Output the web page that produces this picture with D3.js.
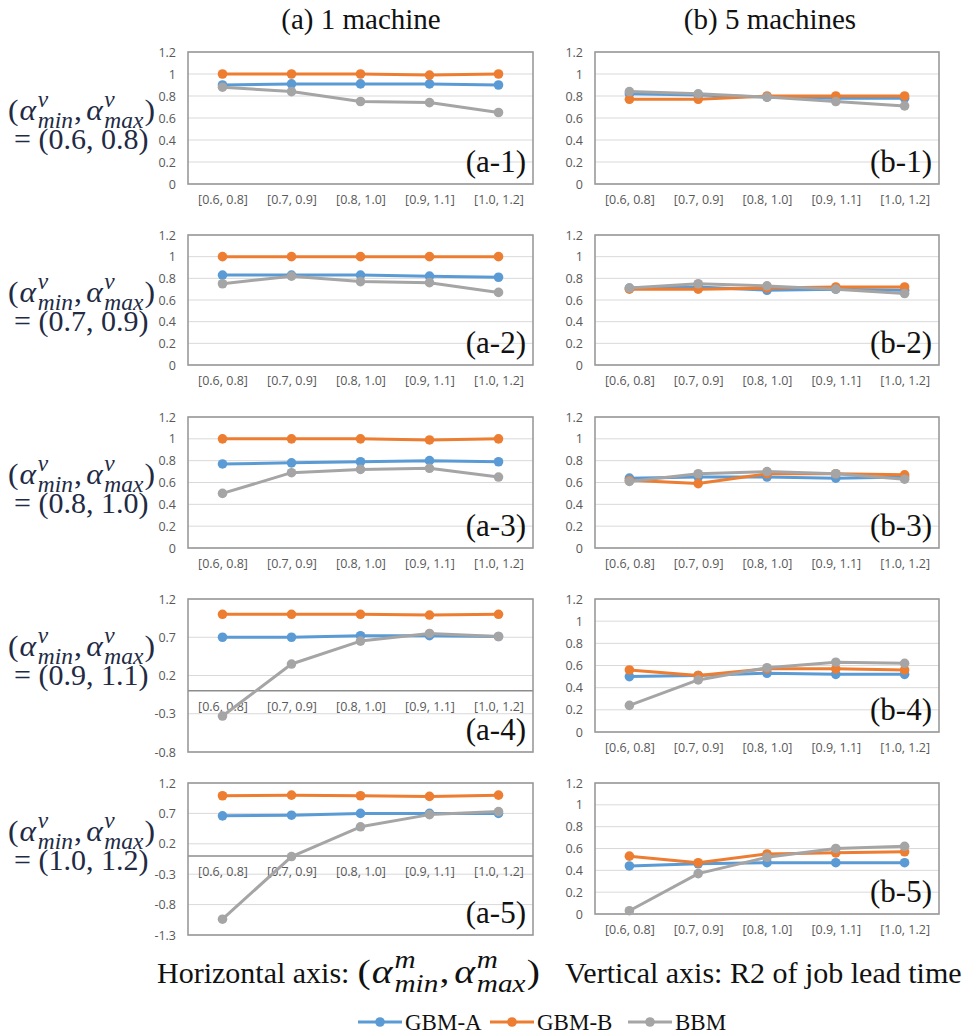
<!DOCTYPE html>
<html><head><meta charset="utf-8">
<script src="https://cdn.jsdelivr.net/npm/d3@7"></script>
<style>body{margin:0;background:#fff}svg{display:block}</style>
</head><body><svg id="c" width="969" height="1034"></svg>
<script>
// ---------- data ----------
const categories = ["[0.6, 0.8]", "[0.7, 0.9]", "[0.8, 1.0]", "[0.9, 1.1]", "[1.0, 1.2]"];
const seriesNames = ["GBM-A", "GBM-B", "BBM"];
const yTicksStd = [0, 0.2, 0.4, 0.6, 0.8, 1, 1.2];
const yTicksA4 = [-0.8, -0.3, 0.2, 0.7, 1.2];
const yTicksA5 = [-1.3, -0.8, -0.3, 0.2, 0.7, 1.2];
const rowParams = ["(0.6, 0.8)", "(0.7, 0.9)", "(0.8, 1.0)", "(0.9, 1.1)", "(1.0, 1.2)"];
const colTitles = ["(a) 1 machine", "(b) 5 machines"];

// 1 machine
const a1GbmA = [0.90, 0.91, 0.91, 0.91, 0.90];
const a1GbmB = [1.00, 1.00, 1.00, 0.99, 1.00];
const a1Bbm  = [0.88, 0.84, 0.75, 0.74, 0.65];
const a2GbmA = [0.83, 0.83, 0.83, 0.82, 0.81];
const a2GbmB = [1.00, 1.00, 1.00, 1.00, 1.00];
const a2Bbm  = [0.75, 0.82, 0.77, 0.76, 0.67];
const a3GbmA = [0.77, 0.78, 0.79, 0.80, 0.79];
const a3GbmB = [1.00, 1.00, 1.00, 0.99, 1.00];
const a3Bbm  = [0.50, 0.69, 0.72, 0.73, 0.65];
const a4GbmA = [0.70, 0.70, 0.72, 0.72, 0.71];
const a4GbmB = [1.00, 1.00, 1.00, 0.99, 1.00];
const a4Bbm  = [-0.33, 0.35, 0.65, 0.75, 0.71];
const a5GbmA = [0.66, 0.67, 0.70, 0.70, 0.70];
const a5GbmB = [0.99, 1.00, 0.99, 0.98, 1.00];
const a5Bbm  = [-1.04, -0.01, 0.48, 0.68, 0.73];
// 5 machines
const b1GbmA = [0.82, 0.81, 0.79, 0.78, 0.78];
const b1GbmB = [0.77, 0.77, 0.80, 0.80, 0.80];
const b1Bbm  = [0.84, 0.82, 0.79, 0.75, 0.71];
const b2GbmA = [0.71, 0.72, 0.69, 0.70, 0.69];
const b2GbmB = [0.70, 0.70, 0.71, 0.72, 0.72];
const b2Bbm  = [0.71, 0.75, 0.73, 0.70, 0.66];
const b3GbmA = [0.64, 0.65, 0.65, 0.64, 0.65];
const b3GbmB = [0.62, 0.59, 0.68, 0.68, 0.67];
const b3Bbm  = [0.61, 0.68, 0.70, 0.68, 0.63];
const b4GbmA = [0.50, 0.51, 0.53, 0.52, 0.52];
const b4GbmB = [0.56, 0.51, 0.57, 0.57, 0.56];
const b4Bbm  = [0.24, 0.47, 0.58, 0.63, 0.62];
const b5GbmA = [0.44, 0.46, 0.47, 0.47, 0.47];
const b5GbmB = [0.53, 0.47, 0.55, 0.56, 0.57];
const b5Bbm  = [0.03, 0.37, 0.52, 0.60, 0.62];

// ---------- styling / layout ----------
const colors = ["#5B9BD5", "#ED7D31", "#A5A5A5"];
const serif = "'Liberation Serif','Times New Roman',serif";
const sans = "'Open Sans','Liberation Sans',sans-serif";
const colX = [[188, 533], [595, 939]];
const panels = [
  {name: "(a-1)", col: 0, top: 52,  bottom: 184, ticks: yTicksStd, data: [a1GbmA, a1GbmB, a1Bbm]},
  {name: "(a-2)", col: 0, top: 235, bottom: 365, ticks: yTicksStd, data: [a2GbmA, a2GbmB, a2Bbm]},
  {name: "(a-3)", col: 0, top: 417, bottom: 548, ticks: yTicksStd, data: [a3GbmA, a3GbmB, a3Bbm]},
  {name: "(a-4)", col: 0, top: 599, bottom: 752, ticks: yTicksA4,  data: [a4GbmA, a4GbmB, a4Bbm]},
  {name: "(a-5)", col: 0, top: 783, bottom: 935, ticks: yTicksA5,  data: [a5GbmA, a5GbmB, a5Bbm]},
  {name: "(b-1)", col: 1, top: 52,  bottom: 184, ticks: yTicksStd, data: [b1GbmA, b1GbmB, b1Bbm]},
  {name: "(b-2)", col: 1, top: 235, bottom: 365, ticks: yTicksStd, data: [b2GbmA, b2GbmB, b2Bbm]},
  {name: "(b-3)", col: 1, top: 417, bottom: 548, ticks: yTicksStd, data: [b3GbmA, b3GbmB, b3Bbm]},
  {name: "(b-4)", col: 1, top: 599, bottom: 732, ticks: yTicksStd, data: [b4GbmA, b4GbmB, b4Bbm]},
  {name: "(b-5)", col: 1, top: 783, bottom: 914, ticks: yTicksStd, data: [b5GbmA, b5GbmB, b5Bbm]}
];
const rowLabelY = [120, 302, 484, 656, 841];

const svg = d3.select("#c");
const fmt = d => String(Math.round(d * 10) / 10);

panels.forEach(p => {
  const [x0, x1] = colX[p.col];
  const x = d3.scalePoint().domain(categories).range([x0, x1]).padding(0.5);
  const y = d3.scaleLinear().domain(d3.extent(p.ticks)).range([p.bottom, p.top]);
  const g = svg.append("g");
  g.selectAll(".grid").data(p.ticks).join("line")
    .attr("x1", x0).attr("x2", x1).attr("y1", d => y(d)).attr("y2", d => y(d))
    .attr("stroke", "#d9d9d9").attr("stroke-width", 1);
  g.append("rect").attr("x", x0).attr("y", p.top).attr("width", x1 - x0).attr("height", p.bottom - p.top)
    .attr("fill", "none").attr("stroke", "#9a9a9a").attr("stroke-width", 1.6);
  const ya = g.append("g").attr("transform", `translate(${x0 - 12},0)`)
    .call(d3.axisLeft(y).tickValues(p.ticks).tickSize(0).tickPadding(0).tickFormat(fmt));
  ya.select(".domain").remove();
  ya.selectAll("text").attr("fill", "#595959").style("font-family", sans).style("font-size", "12.5px");
  const hasNeg = y.domain()[0] < 0;
  const yz = hasNeg ? y(0) : p.bottom;
  if (hasNeg) {
    g.append("line").attr("x1", x0).attr("x2", x1).attr("y1", yz).attr("y2", yz)
      .attr("stroke", "#8c8c8c").attr("stroke-width", 1.6);
  }
  const xa = g.append("g").attr("transform", `translate(0,${yz + 11})`)
    .call(d3.axisBottom(x).tickSize(0).tickPadding(0));
  xa.select(".domain").remove();
  xa.selectAll("text").attr("fill", "#595959").style("font-family", sans).style("font-size", "12.5px");
  const line = d3.line().x((d, i) => x(categories[i])).y(d => y(d));
  p.data.forEach((vals, si) => {
    g.append("path").datum(vals).attr("d", line).attr("fill", "none")
      .attr("stroke", colors[si]).attr("stroke-width", 3).attr("stroke-linejoin", "round");
    g.selectAll(null).data(vals).join("circle")
      .attr("cx", (d, i) => x(categories[i])).attr("cy", d => y(d)).attr("r", 4.8)
      .attr("fill", colors[si]);
  });
  g.append("text").attr("x", x1 - 7).attr("y", p.bottom - 12).attr("text-anchor", "end")
    .style("font-family", serif).style("font-size", "31px").attr("fill", "#111").text(p.name);
});

[[361, colTitles[0]], [770, colTitles[1]]].forEach(([cx, t]) => {
  svg.append("text").attr("x", cx).attr("y", 29).attr("text-anchor", "middle")
    .style("font-family", serif).style("font-size", "29px").attr("fill", "#111").text(t);
});

// math text (α^s_min, α^s_max)
function buildMath(txt, fs, sup) {
  txt.selectAll("*").remove();
  txt.style("font-size", fs + "px");
  const ts = (t, o = {}) => {
    const s = txt.append("tspan").text(t)
      .style("font-style", o.italic ? "italic" : "normal")
      .style("font-size", (o.size || 1) * fs + "px");
    if (o.dy) s.attr("dy", o.dy);
    if (o.dx) s.attr("dx", o.dx);
    return s;
  };
  ts("(");
  ["min", "max"].forEach((sub, k) => {
    ts("α", {italic: true, dx: k === 0 ? 1 : 4});
    const s1 = ts(sup, {italic: true, size: 0.74, dy: -0.44 * fs, dx: 1.5});
    const w1 = s1.node().getComputedTextLength();
    const s2 = ts(sub, {italic: true, size: 0.74, dy: 0.72 * fs, dx: -w1});
    const w2 = s2.node().getComputedTextLength();
    ts(k === 0 ? "," : ")", {dy: -0.28 * fs, dx: Math.max(0, w1 - w2) + 1});
  });
  return txt.node().getBBox().width;
}
function mathText(x, y, fs, maxFs, sup, color, targetW) {
  const txt = svg.append("text").attr("x", 0).attr("y", 0)
    .style("font-family", serif).attr("fill", color);
  let w = buildMath(txt, fs, sup);
  const fs2 = Math.min(maxFs, fs * targetW / w);
  if (Math.abs(fs2 - fs) > 0.2) w = buildMath(txt, fs2, sup);
  txt.attr("transform", `translate(${x},${y}) scale(${targetW / w},1)`);
  return txt;
}

rowParams.forEach((rp, i) => {
  mathText(8, rowLabelY[i], 30, 30, "v", "#222a44", 147);
  svg.append("text").attr("x", 14).attr("y", rowLabelY[i] + 29)
    .style("font-family", serif).style("font-size", "30px").attr("fill", "#222a44")
    .text("= " + rp);
});

// bottom captions
const cap1 = svg.append("text").attr("x", 157).attr("y", 983)
  .style("font-family", serif).style("font-size", "30px").attr("fill", "#111")
  .text("Horizontal axis:");
const c1w = cap1.node().getBBox().width;
const mStart = 157 + c1w + 8;
mathText(mStart, 983, 30, 33, "m", "#111", 540 - mStart);
svg.append("text").attr("x", 565).attr("y", 983)
  .style("font-family", serif).style("font-size", "30px").attr("fill", "#111")
  .text("Vertical axis: R2 of job lead time");

// legend
const legX = [358, 490, 628];
seriesNames.forEach((n, i) => {
  const lg = svg.append("g").attr("transform", `translate(${legX[i]},1022)`);
  lg.append("line").attr("x1", 0).attr("x2", 44).attr("stroke", colors[i]).attr("stroke-width", 3);
  lg.append("circle").attr("cx", 22).attr("r", 4.8).attr("fill", colors[i]);
  lg.append("text").attr("x", 47).attr("y", 8).style("font-family", serif).style("font-size", "23px")
    .attr("fill", "#111").text(n);
});
</script></body></html>
